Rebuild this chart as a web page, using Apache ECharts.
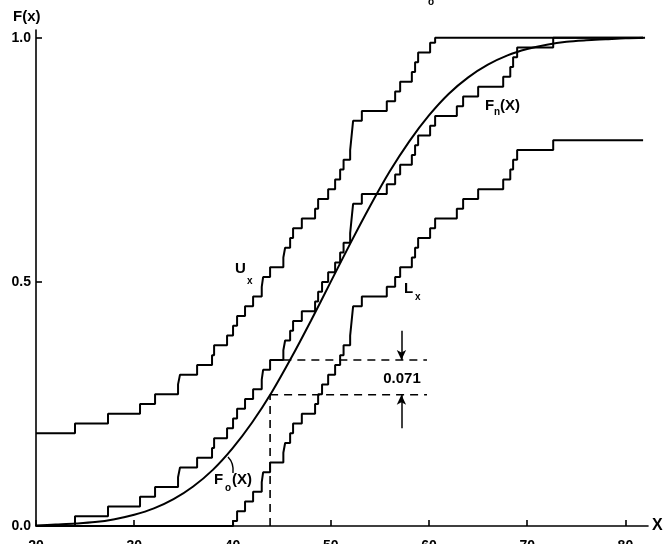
<!DOCTYPE html>
<html><head><meta charset="utf-8">
<script src="https://cdn.jsdelivr.net/npm/echarts@6/dist/echarts.min.js"></script>
<style>html,body{margin:0;padding:0;background:#fff}#c{width:664px;height:544px}</style>
</head><body><div id="c"></div>
<script>
// ---- data ----
const xTicks = [20, 30, 40, 50, 60, 70, 80];
const yTicks = [0, 0.5, 1.0];
// Fn(X): jump positions and level after each jump
const fnX = [23.97, 27.33, 30.59, 32.12, 34.46, 34.66, 36.40, 37.92, 38.13, 39.45,
  40.06, 40.47, 41.28, 42.10, 42.98, 43.12, 43.83, 45.18, 45.36, 45.87,
  46.17, 47.06, 48.41, 48.72, 49.12, 49.74, 50.45, 50.96, 51.31, 51.98,
  52.08, 52.18, 52.28, 53.17, 55.71, 56.56, 57.07, 58.26, 58.59, 58.90,
  60.12, 60.63, 62.84, 63.48, 65.01, 67.56, 68.28, 68.57, 68.98, 72.65];
const fnLevels = [0.02, 0.04, 0.06, 0.08, 0.10, 0.12, 0.14, 0.16, 0.18, 0.20,
  0.22, 0.24, 0.26, 0.28, 0.30, 0.32, 0.34, 0.36, 0.38, 0.40,
  0.42, 0.44, 0.46, 0.48, 0.50, 0.52, 0.54, 0.56, 0.58, 0.60,
  0.62, 0.64, 0.66, 0.68, 0.70, 0.72, 0.74, 0.76, 0.78, 0.80,
  0.82, 0.84, 0.86, 0.88, 0.90, 0.92, 0.94, 0.96, 0.98, 1.00];
// Ux: level at left, jump positions and level after each jump
const uxStart = 0.19;
const uxX = [23.97, 27.33, 30.59, 32.12, 34.46, 34.66, 36.40, 37.92, 38.13, 39.45,
  40.06, 40.47, 41.28, 42.10, 42.98, 43.12, 43.83, 45.18, 45.36, 45.87,
  46.17, 47.06, 48.41, 48.72, 49.74, 50.45, 50.96, 51.31, 51.98, 52.08,
  52.18, 52.28, 53.17, 55.71, 56.56, 57.07, 58.26, 58.59, 58.90, 60.12, 60.63];
const uxLevels = [0.21, 0.23, 0.25, 0.27, 0.29, 0.31, 0.33, 0.35, 0.37, 0.39,
  0.41, 0.43, 0.45, 0.47, 0.49, 0.51, 0.53, 0.55, 0.57, 0.59,
  0.61, 0.63, 0.65, 0.67, 0.69, 0.71, 0.73, 0.75, 0.77, 0.79,
  0.81, 0.83, 0.85, 0.87, 0.89, 0.91, 0.93, 0.95, 0.97, 0.99, 1.00];
// Lx: jump positions and level after each jump
const lxX = [40.06, 40.47, 41.28, 42.10, 42.98, 43.12, 43.83, 45.18, 45.36, 45.87,
  46.17, 47.06, 48.41, 48.72, 49.12, 49.74, 50.45, 50.96, 51.31, 51.98,
  52.08, 52.18, 52.28, 53.17, 55.71, 56.56, 57.07, 58.26, 58.59, 58.90,
  60.12, 60.63, 62.84, 63.48, 65.01, 67.56, 68.28, 68.57, 68.98, 72.65];
const lxLevels = [0.01, 0.03, 0.05, 0.07, 0.09, 0.11, 0.13, 0.15, 0.17, 0.19,
  0.21, 0.23, 0.25, 0.27, 0.29, 0.31, 0.33, 0.35, 0.37, 0.39,
  0.41, 0.43, 0.45, 0.47, 0.49, 0.51, 0.53, 0.55, 0.57, 0.59,
  0.61, 0.63, 0.65, 0.67, 0.69, 0.71, 0.73, 0.75, 0.77, 0.79];
// F0(X) curve read at points
const f0X = [20, 22, 24, 26, 28, 30, 32, 34, 36, 38, 40, 42, 44, 46, 48, 50,
  52, 54, 56, 58, 60, 62, 64, 66, 68, 70, 72, 74, 76, 78, 80, 82];
const f0Y = [0.001, 0.003, 0.005, 0.008, 0.014, 0.023, 0.036, 0.055, 0.081, 0.115,
  0.159, 0.212, 0.274, 0.345, 0.421, 0.500, 0.579, 0.655, 0.726, 0.788,
  0.841, 0.885, 0.919, 0.945, 0.964, 0.977, 0.986, 0.992, 0.995, 0.997, 0.999, 1.000];
// maximum deviation annotation
const dX = 43.83, dUpper = 0.34, dLower = 0.269, dUpperFrom = 45.18, dTo = 59.8;
const arrowX = 57.2, arrowTop = 0.40, arrowBottom = 0.20;
const dLabel = '0.071';
const xMin = 20, xMax = 82.3, yMax = 1.016, stairEnd = 81.8;

// ---- build ----
function stairs(x0, y0, xs, ys, xEnd) {
  const d = [[x0, y0]];
  xs.forEach((x, i) => d.push([x, ys[i]]));
  d.push([xEnd, ys[ys.length - 1]]);
  return d;
}
const fnData = stairs(xMin, 0, fnX, fnLevels, stairEnd);
const uxData = stairs(xMin, uxStart, uxX, uxLevels, stairEnd);
const lxData = stairs(xMin, 0, lxX, lxLevels, stairEnd);
const f0Data = f0X.map((x, i) => [x, f0Y[i]]);

const FONT = '"Liberation Sans", Arial, Helvetica, sans-serif';
const blk = '#000';
const stairStyle = { color: blk, width: 2 };
const dash = { color: blk, width: 1.6, type: [8, 6] };

const chart = echarts.init(document.getElementById('c'), null, { renderer: 'canvas' });
function txt(text, x, y, size, align) {
  return { type: 'text', x: x, y: y, silent: true,
    style: { text: text, fill: blk, font: 'bold ' + size + 'px ' + FONT,
      align: align || 'left', verticalAlign: 'middle' } };
}
chart.setOption({
  animation: false,
  backgroundColor: '#fff',
  grid: { left: 36, right: 16, top: 30, bottom: 18, containLabel: false, outerBoundsMode: 'none' },
  xAxis: {
    type: 'value', min: xMin, max: xMax, interval: 10,
    name: 'X', nameLocation: 'end', nameGap: 4,
    nameTextStyle: { color: blk, fontFamily: FONT, fontWeight: 'bold', fontSize: 16, verticalAlign: 'middle' },
    axisLine: { lineStyle: { color: blk, width: 1.6 } },
    axisTick: { inside: true, length: 6, lineStyle: { color: blk, width: 1.6 }, customValues: xTicks },
    axisLabel: { color: blk, fontFamily: FONT, fontWeight: 'bold', fontSize: 14, margin: 13, customValues: xTicks,
      formatter: v => xTicks.indexOf(v) >= 0 ? String(v) : '' },
    splitLine: { show: false }
  },
  yAxis: {
    type: 'value', min: 0, max: yMax, interval: 0.5,
    axisLine: { show: true, lineStyle: { color: blk, width: 1.6 } },
    axisTick: { show: true, inside: true, length: 6, lineStyle: { color: blk, width: 1.6 }, customValues: yTicks },
    axisLabel: { color: blk, fontFamily: FONT, fontWeight: 'bold', fontSize: 14, margin: 5, customValues: yTicks,
      formatter: v => yTicks.indexOf(v) >= 0 ? v.toFixed(1) : '' },
    splitLine: { show: false }
  },
  series: [
    { type: 'line', name: 'Ux', data: uxData, step: 'end', symbol: 'none', lineStyle: stairStyle, z: 3 },
    { type: 'line', name: 'Fn', data: fnData, step: 'end', symbol: 'none', lineStyle: stairStyle, z: 3 },
    { type: 'line', name: 'Lx', data: lxData, step: 'end', symbol: 'none', lineStyle: stairStyle, z: 3 },
    { type: 'line', name: 'F0', data: f0Data, smooth: 0.3, symbol: 'none', lineStyle: { color: blk, width: 2 }, z: 4 },
    { type: 'line', name: 'dv', data: [[dX, 0], [dX, dLower]], symbol: 'none', lineStyle: dash, z: 2 },
    { type: 'line', name: 'dl', data: [[dX, dLower], [dTo, dLower]], symbol: 'none', lineStyle: dash, z: 2 },
    { type: 'line', name: 'du', data: [[dUpperFrom, dUpper], [dTo, dUpper]], symbol: 'none', lineStyle: dash, z: 2,
      markLine: { silent: true, symbol: ['none', 'arrow'], symbolSize: [7, 10], label: { show: false },
        lineStyle: { color: blk, width: 1.5, type: 'solid' },
        data: [[{ coord: [arrowX, arrowTop] }, { coord: [arrowX, dUpper] }],
               [{ coord: [arrowX, arrowBottom] }, { coord: [arrowX, dLower] }]] } }
  ],
  graphic: [
    txt('F(x)', 13, 17, 15),
    txt('o', 428, 2, 10),
    txt('U', 235, 269, 15), txt('x', 247, 281, 10),
    txt('L', 404, 289, 15), txt('x', 415, 297, 10),
    txt('F', 485, 106, 15), txt('n', 494, 112, 10), txt('(X)', 500, 106, 15),
    txt('F', 214, 480, 15), txt('o', 225, 488, 10), txt('(X)', 232, 480, 15),
    txt(dLabel, 402, 379, 15, 'center'),
    { type: 'bezierCurve', silent: true,
      shape: { x1: 233, y1: 473, cpx1: 234, cpy1: 463, x2: 228, y2: 457 },
      style: { stroke: blk, lineWidth: 1.4, fill: null } }
  ]
});
</script></body></html>
